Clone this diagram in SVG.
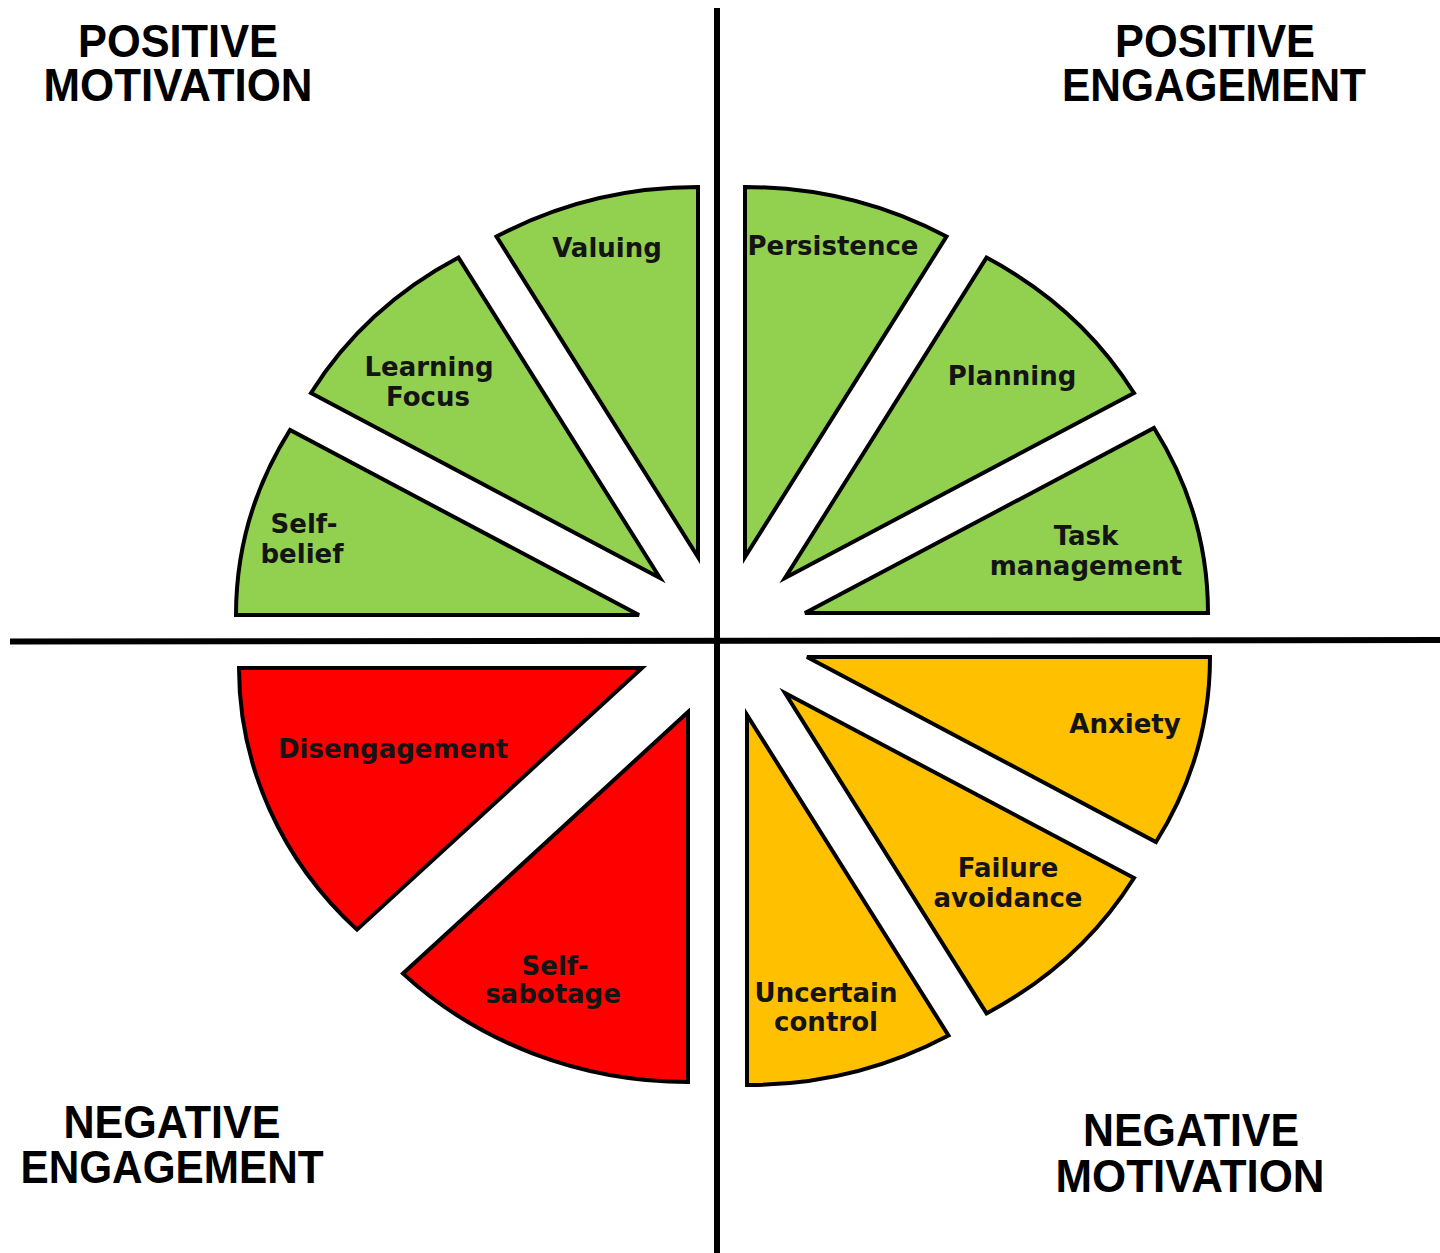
<svg xmlns="http://www.w3.org/2000/svg" width="1440" height="1253" viewBox="0 0 1440 1253">
  <style>
    .wedge { stroke: #000; stroke-width: 4; stroke-linejoin: miter; }
    .green { fill: #92D050; }
    .red { fill: #FF0000; }
    .orange { fill: #FFC000; }
    .lbl { font-family: "DejaVu Sans", Verdana, sans-serif; font-weight: bold; font-size: 26px; fill: #141414; text-anchor: middle; }
    .hdr { font-family: "Liberation Sans", Arial, sans-serif; font-weight: bold; font-size: 46px; fill: #000; text-anchor: middle; }
    .axis { stroke: #000; stroke-width: 6; fill: none; }
  </style>
  <rect width="1440" height="1253" fill="#fff"/>

  <g id="axes">
    <line class="axis" x1="717" y1="8" x2="717" y2="1253"/>
    <line class="axis" x1="10" y1="641.5" x2="1440" y2="640"/>
  </g>

  <g id="valuing">
    <path class="wedge green" d="M698,557 L698,187 A403,370 0 0 0 496.5,236.6 Z"/>
    <text class="lbl" x="607" y="257">Valuing</text>
  </g>
  <g id="learning-focus">
    <path class="wedge green" d="M660,578 L458.5,257.6 A403,370 0 0 0 311,393 Z"/>
    <text class="lbl" x="429" y="376">Learning</text>
    <text class="lbl" x="428" y="406">Focus</text>
  </g>
  <g id="self-belief">
    <path class="wedge green" d="M639,615 L236,615 A403,370 0 0 1 290,430 Z"/>
    <text class="lbl" x="304" y="533">Self-</text>
    <text class="lbl" x="302" y="563">belief</text>
  </g>
  <g id="persistence">
    <path class="wedge green" d="M745,557 L946.5,236.6 A403,370 0 0 0 745,187 Z"/>
    <text class="lbl" x="833" y="255">Persistence</text>
  </g>
  <g id="planning">
    <path class="wedge green" d="M785,578 L1134,393 A403,370 0 0 0 986.5,257.6 Z"/>
    <text class="lbl" x="1012" y="385">Planning</text>
  </g>
  <g id="task-management">
    <path class="wedge green" d="M805,613 L1208,613 A403,370 0 0 0 1154,428 Z"/>
    <text class="lbl" x="1086" y="545">Task</text>
    <text class="lbl" x="1086" y="575">management</text>
  </g>
  <g id="disengagement">
    <path class="wedge red" d="M642,668 L239,668 A403,370 0 0 0 357,929.6 Z"/>
    <text class="lbl" x="393" y="758">Disengagement</text>
  </g>
  <g id="self-sabotage">
    <path class="wedge red" d="M688,712 L403,973.6 A403,370 0 0 0 688,1082 Z"/>
    <text class="lbl" x="555" y="975">Self-</text>
    <text class="lbl" x="553" y="1003">sabotage</text>
  </g>
  <g id="uncertain-control">
    <path class="wedge orange" d="M747,715 L747,1085 A403,370 0 0 0 948.5,1035.4 Z"/>
    <text class="lbl" x="826" y="1002">Uncertain</text>
    <text class="lbl" x="826" y="1031">control</text>
  </g>
  <g id="failure-avoidance">
    <path class="wedge orange" d="M785,693 L986.5,1013.4 A403,370 0 0 0 1134,878 Z"/>
    <text class="lbl" x="1008" y="877">Failure</text>
    <text class="lbl" x="1008" y="907">avoidance</text>
  </g>
  <g id="anxiety">
    <path class="wedge orange" d="M807,657 L1156,842 A403,370 0 0 0 1210,657 Z"/>
    <text class="lbl" x="1125" y="733">Anxiety</text>
  </g>

  <g id="positive-motivation">
    <text class="hdr" x="178" y="57" textLength="200" lengthAdjust="spacingAndGlyphs">POSITIVE</text>
    <text class="hdr" x="178" y="101" textLength="269" lengthAdjust="spacingAndGlyphs">MOTIVATION</text>
  </g>
  <g id="positive-engagement">
    <text class="hdr" x="1215" y="57" textLength="200" lengthAdjust="spacingAndGlyphs">POSITIVE</text>
    <text class="hdr" x="1214" y="101" textLength="304" lengthAdjust="spacingAndGlyphs">ENGAGEMENT</text>
  </g>
  <g id="negative-engagement">
    <text class="hdr" x="172" y="1138" textLength="217" lengthAdjust="spacingAndGlyphs">NEGATIVE</text>
    <text class="hdr" x="172" y="1183" textLength="303" lengthAdjust="spacingAndGlyphs">ENGAGEMENT</text>
  </g>
  <g id="negative-motivation">
    <text class="hdr" x="1191" y="1146" textLength="216" lengthAdjust="spacingAndGlyphs">NEGATIVE</text>
    <text class="hdr" x="1190" y="1192" textLength="269" lengthAdjust="spacingAndGlyphs">MOTIVATION</text>
  </g>
</svg>
